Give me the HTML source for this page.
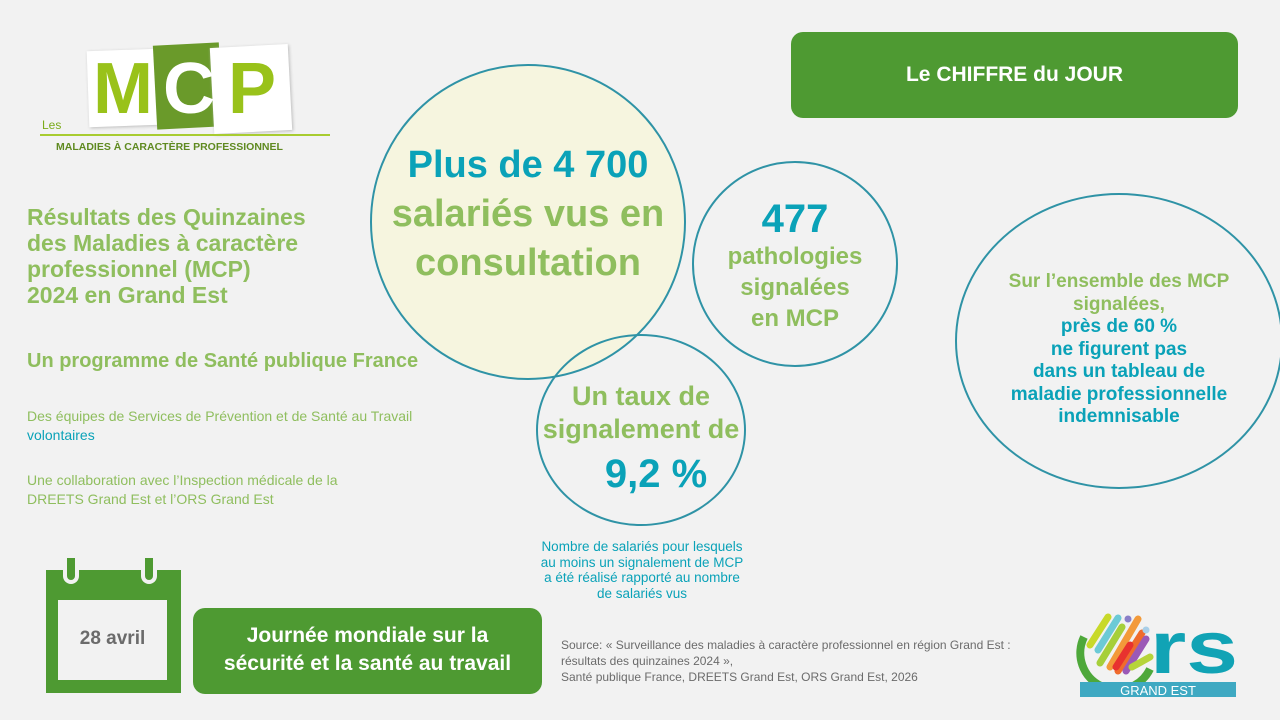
<!DOCTYPE html>
<html><head><meta charset="utf-8"><style>
*{margin:0;padding:0;box-sizing:border-box}
body{width:1280px;height:720px;background:#f2f2f2;font-family:"Liberation Sans",sans-serif;position:relative;overflow:hidden}
.a{position:absolute}
.g{color:#8fbe5e}.t{color:#0aa2b8}
.b{font-weight:bold}
.circ{position:absolute;border:2px solid #2f93a6;border-radius:50%;text-align:center;font-weight:bold}
.L{position:absolute;font-weight:bold;font-size:72px;line-height:74px}
</style></head><body>
<div class="a" style="left:40px;top:40px;width:292px;height:120px">
 <div class="a" style="left:48px;top:10px;width:70px;height:76px;background:#fff;transform:rotate(-2deg);box-shadow:1px 1px 3px #bbb"></div>
 <div class="a" style="left:115px;top:4px;width:66px;height:84px;background:#6a9a2a;transform:rotate(-3deg)"></div>
 <div class="a" style="left:172px;top:6px;width:78px;height:86px;background:#fff;transform:rotate(-3deg);box-shadow:1px 1px 3px #bbb"></div>
 <div class="L" style="left:53px;top:12px;color:#99c21a">M</div>
 <div class="L" style="left:123px;top:12px;color:#fff">C</div>
 <div class="L" style="left:188px;top:12px;color:#99c21a">P</div>
 <div class="a" style="left:2px;top:78px;font-size:12px;color:#7bab1a">Les</div>
 <div class="a" style="left:0;top:94px;width:290px;height:2px;background:#a8cc30"></div>
 <div class="a b" style="left:16px;top:101px;font-size:10.5px;color:#5f8a20;white-space:nowrap">MALADIES À CARACTÈRE PROFESSIONNEL</div>
</div>
<div class="a g b" style="left:27px;top:204px;font-size:23px;line-height:26px">Résultats des Quinzaines<br>des Maladies à caractère<br>professionnel (MCP)<br>2024 en Grand Est</div>
<div class="a g b" style="left:27px;top:350px;font-size:20px">Un programme de Santé publique France</div>
<div class="a g" style="left:27px;top:407px;font-size:14px;line-height:19px">Des équipes de Services de Prévention et de Santé au Travail<br><span class="t">volontaires</span></div>
<div class="a g" style="left:27px;top:471px;font-size:14px;line-height:19px">Une collaboration avec l’Inspection médicale de la<br>DREETS Grand Est et l’ORS Grand Est</div>
<div class="a b" style="left:791px;top:32px;width:447px;height:86px;background:#4e9a32;border-radius:12px;color:#fff;font-size:21px;text-align:center;line-height:86px">Le CHIFFRE du JOUR</div>
<div class="circ" style="left:370px;top:64px;width:316px;height:316px;background:#f6f5df;padding-top:75px;font-size:38px;line-height:49px"><div class="t">Plus de 4 700</div><div class="g">salariés vus en<br>consultation</div></div>
<div class="circ" style="left:692px;top:161px;width:206px;height:206px;padding-top:34px"><div class="t" style="font-size:40px;line-height:44px">477</div><div class="g" style="font-size:24px;line-height:31px">pathologies<br>signalées<br>en MCP</div></div>
<div class="circ" style="left:536px;top:334px;width:210px;height:192px;padding-top:44px"><div class="g" style="font-size:27px;line-height:33px;margin:0 -10px">Un taux de<br>signalement de</div><div class="t" style="font-size:40px;line-height:56px;padding-left:30px">9,2 %</div></div>
<div class="circ" style="left:955px;top:193px;width:328px;height:296px;padding-top:76px;font-size:19px;line-height:22.5px"><div class="g">Sur l’ensemble des MCP<br>signalées,</div><div class="t">près de 60 %<br>ne figurent pas<br>dans un tableau de<br>maladie professionnelle<br>indemnisable</div></div>
<div class="a t" style="left:510px;top:539px;width:264px;text-align:center;font-size:13.5px;line-height:15.5px">Nombre de salariés pour lesquels<br>au moins un signalement de MCP<br>a été réalisé rapporté au nombre<br>de salariés vus</div>
<div class="a" style="left:46px;top:570px;width:135px;height:123px;background:#4e9a32">
 <div class="a" style="left:12px;top:30px;width:109px;height:80px;background:#f2f2f2"></div>
 <div class="a" style="left:17px;top:-12px;width:16px;height:26px;border:4px solid #f2f2f2;border-top:none;border-radius:0 0 8px 8px;background:#4e9a32"></div>
 <div class="a" style="left:95px;top:-12px;width:16px;height:26px;border:4px solid #f2f2f2;border-top:none;border-radius:0 0 8px 8px;background:#4e9a32"></div>
 <div class="a b" style="left:12px;top:58px;width:109px;text-align:center;font-size:19px;color:#6b6b6b">28 avril</div>
</div>
<div class="a b" style="left:193px;top:608px;width:349px;height:86px;background:#4e9a32;border-radius:12px;color:#fff;font-size:21px;text-align:center;line-height:28px;padding-top:14px">Journée mondiale sur la<br>sécurité et la santé au travail</div>
<div class="a" style="left:561px;top:637px;font-size:12px;line-height:16px;color:#6b6b6b">Source: « Surveillance des maladies à caractère professionnel en région Grand Est :<br>résultats des quinzaines 2024 »,<br>Santé publique France, DREETS Grand Est, ORS Grand Est, 2026</div>
<svg class="a" style="left:1070px;top:605px" width="175" height="95" viewBox="0 0 175 95">
 <g stroke-linecap="round" stroke-width="7">
  <line x1="20" y1="40" x2="38" y2="12" stroke="#c8d92a"/><line x1="28" y1="45" x2="48" y2="13" stroke="#6ccad6"/>
  <line x1="30" y1="58" x2="52" y2="22" stroke="#a6cf3a"/><line x1="40" y1="62" x2="68" y2="14" stroke="#f39a3a"/>
  <line x1="48" y1="66" x2="72" y2="28" stroke="#ef6b2c"/><line x1="56" y1="66" x2="76" y2="34" stroke="#9b59b6"/>
  <line x1="46" y1="62" x2="60" y2="40" stroke="#e8322f"/><line x1="62" y1="62" x2="80" y2="52" stroke="#b6d43a"/>
 </g>
 <circle cx="58" cy="14" r="3.5" fill="#8a7fc8"/><circle cx="76" cy="25" r="3.5" fill="#a9cfe8"/>
 <path d="M14 32 A34 34 0 0 0 80 64" fill="none" stroke="#4ea83a" stroke-width="8"/>
 <text x="80" y="68" font-family="Liberation Sans" font-weight="bold" font-size="74" fill="#11a3b5" textLength="88" lengthAdjust="spacingAndGlyphs">rs</text>
 <rect x="10" y="77" width="156" height="15" fill="#3fa9c2"/>
 <text x="88" y="90" text-anchor="middle" font-family="Liberation Sans" font-size="13" fill="#fff">GRAND EST</text>
</svg>
</body></html>
